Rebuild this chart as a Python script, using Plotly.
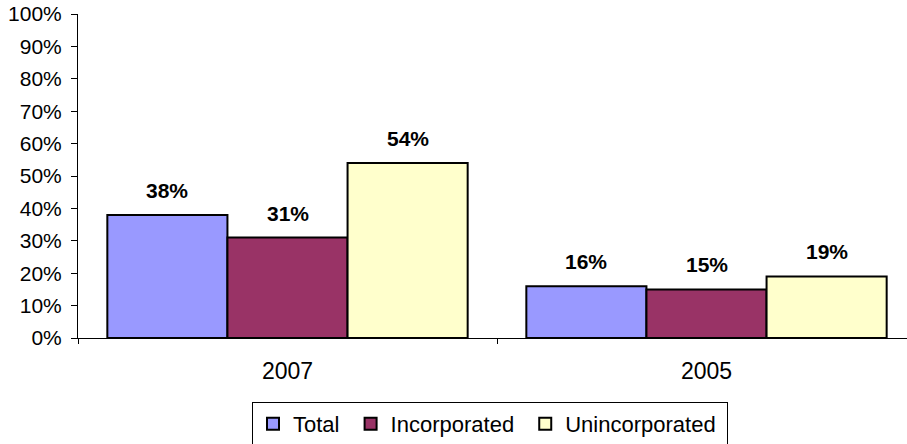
import plotly.graph_objects as go

years = ['2007', '2005']
series = ['Total', 'Incorporated', 'Unincorporated']
total = [0.38, 0.16]
incorporated = [0.31, 0.15]
unincorporated = [0.54, 0.19]
colors = ['#9999FF', '#993366', '#FFFFCC']

font = 'Liberation Sans, Arial, sans-serif'
bargap = 0.14
bar_w = (1 - bargap) / 3

fig = go.Figure()
annotations = []
for i, (name, vals) in enumerate(zip(series, [total, incorporated, unincorporated])):
    # one trailing no-break space widens the legend entries a little, like the original
    fig.add_trace(go.Bar(x=years, y=vals, name=name + '\u00a0',
                         marker=dict(color=colors[i], line=dict(color='black', width=2))))
    # data labels sit a bit above each bar
    for j, v in enumerate(vals):
        annotations.append(dict(x=j + (i - 1) * bar_w, y=v, xref='x', yref='y',
                                text='<b>%d%%</b>' % round(v * 100), showarrow=False,
                                yanchor='bottom', yshift=11,
                                font=dict(family=font, size=21, color='black')))

fig.update_layout(
    width=907, height=444,
    barmode='group', bargap=bargap, bargroupgap=0,
    plot_bgcolor='white', paper_bgcolor='white',
    margin=dict(l=78, r=0, t=14, b=106),
    font=dict(family=font, size=21, color='black'),
    annotations=annotations,
    legend=dict(orientation='h', xref='container', yref='container',
                x=252 / 907, xanchor='left', y=1 - 402 / 444, yanchor='top',
                bordercolor='black', borderwidth=1,
                font=dict(family=font, size=22, color='black')),
)
fig.update_xaxes(type='category', range=[-0.5, -0.5 + 829 / 419],
                 showline=True, linecolor='black', linewidth=1,
                 ticks='outside', tickson='boundaries', ticklen=5, tickcolor='black',
                 tickfont=dict(size=23), ticklabelstandoff=12, showgrid=False)
fig.update_yaxes(range=[0, 1], dtick=0.1, tickformat='.0%',
                 showline=True, linecolor='black', linewidth=1,
                 ticks='outside', ticklen=6, tickcolor='black',
                 ticklabelstandoff=5, showgrid=False, zeroline=False)

# drop the default 8px body margin so the figure sits at the window corner
fig.write_html("out.html", config={'displayModeBar': False},
               post_script="document.body.style.margin='0px';")
